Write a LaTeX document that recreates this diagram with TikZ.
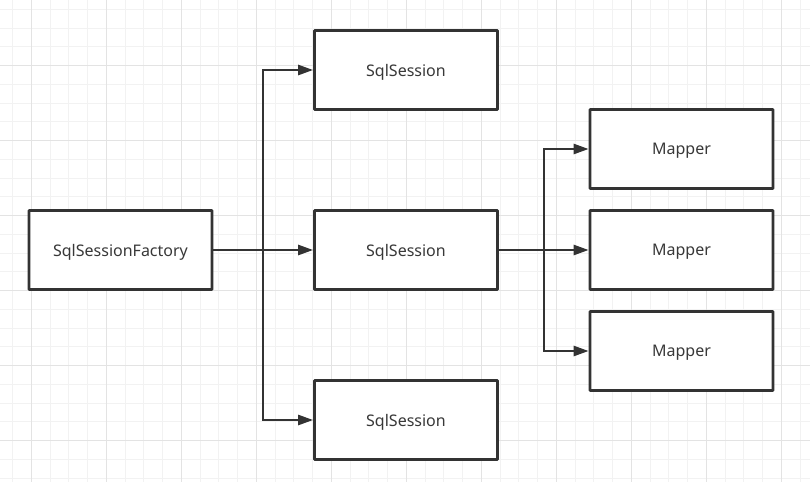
\documentclass[tikz,border=0pt]{standalone}
\usepackage{fontspec}
\setmainfont{Noto Sans}
\usetikzlibrary{calc, arrows.meta, positioning}

\begin{document}
\begin{tikzpicture} [x=1pt, y=-1pt,
		% define styles
		basicnodestyle/.style={
			% The shape:
			rectangle,
			% The size:
			minimum width=183pt,
			minimum height=79pt,
			text depth=0pt,
			% The border:
			line width=2.7pt,
			draw=black!80,
			% The filling:
			fill=white,
			% Corners
			rounded corners=0.5pt,
			% Font
			font=\fontsize{16}{18}\selectfont,
			text=black!78
		},
		arrow/.style={
			-{Triangle[length=15pt,width=10pt]},
			% Thickness
			line width=2.5pt,
			% Color
			black!80
		},
		minorgrid/.style={
			line width=1pt,
			black!5
		},
		majorgrid/.style={
			line width=1pt,
			black!11
		}]
		% end of style definition

		% background grid
		\useasboundingbox (0,0) rectangle (810,482);
		\foreach \i in {0,...,43} {
			\draw [minorgrid] (12.7+18.75*\i,0) -- (12.7+18.75*\i,482);
		}
		\foreach \i in {0,...,25} {
			\draw [minorgrid] (0,9.3+18.75*\i) -- (810,9.3+18.75*\i);
		}
		\foreach \i in {0,...,10} {
			\draw [majorgrid] (31.7+75*\i,0) -- (31.7+75*\i,482);
		}
		\foreach \i in {0,...,6} {
			\draw [majorgrid] (0,-9.7+75*\i) -- (810,-9.7+75*\i);
		}

		% draw nodes
		\node (iFactory) [basicnodestyle] at (120.5,250) {SqlSessionFactory};
		\node (iSession1) [basicnodestyle] at (406,70) {SqlSession};
		\node (iSession2) [basicnodestyle] at (406,250) {SqlSession};
		\node (iSession3) [basicnodestyle] at (406,420) {SqlSession};

		\node (iMapper1) [basicnodestyle] at (681.5,149) {Mapper};
		\node (iMapper2) [basicnodestyle] at (681.5,250) {Mapper};
		\node (iMapper3) [basicnodestyle] at (681.5,351) {Mapper};

		% connect nodes
		\coordinate (iSplit1) at (263,250);
		\coordinate (iSplit2) at (544,250);
		\draw [arrow] (iFactory) -- (iSession2);
		\draw [arrow] (iSplit1) |- (iSession1);
		\draw [arrow] (iSplit1) |- (iSession3);
		\draw [arrow] (iSession2) -- (iMapper2);
		\draw [arrow] (iSplit2) |- (iMapper1);
		\draw [arrow] (iSplit2) |- (iMapper3);
	\end{tikzpicture}
\end{document}
